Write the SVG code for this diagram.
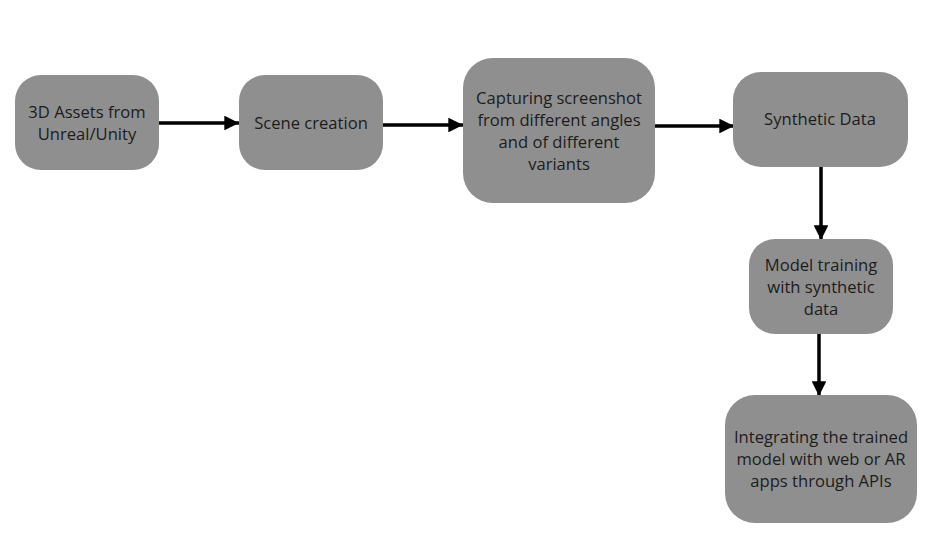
<svg xmlns="http://www.w3.org/2000/svg" width="948" height="552" viewBox="0 0 948 552">
<defs>
<marker id="ah" viewBox="0 0 10 10" refX="10" refY="5" markerWidth="4.2" markerHeight="4.2" markerUnits="strokeWidth" orient="auto">
<path d="M0,0 L10,5 L0,10 Z" fill="#000"/>
</marker>
</defs>
<style>
.box{fill:#8f8f8f}
.t{font-family:"Open Sans","Noto Sans",sans-serif;font-size:16.6px;fill:#1c1c1c;text-anchor:middle}
.c{stroke:#000;stroke-width:3.5;fill:none;marker-end:url(#ah)}
</style>
<rect width="948" height="552" fill="#fff"/>
<g id="connectors">
<line class="c" x1="159" y1="123" x2="239" y2="123"/>
<line class="c" x1="383" y1="125" x2="463" y2="125"/>
<line class="c" x1="655" y1="126" x2="734" y2="126"/>
<line class="c" x1="821" y1="167" x2="821" y2="240"/>
<line class="c" x1="819" y1="334" x2="819" y2="396"/>
</g>
<g id="n1">
<rect class="box" x="15" y="75" width="144" height="95" rx="26"/>
<text class="t" x="87" y="118">3D Assets from</text>
<text class="t" x="87" y="140">Unreal/Unity</text>
</g>
<g id="n2">
<rect class="box" x="239" y="75" width="144" height="95" rx="26"/>
<text class="t" x="311" y="129">Scene creation</text>
</g>
<g id="n3">
<rect class="box" x="463" y="58" width="192" height="145" rx="30"/>
<text class="t" x="559" y="104">Capturing screenshot</text>
<text class="t" x="559" y="126">from different angles</text>
<text class="t" x="559" y="148">and of different</text>
<text class="t" x="559" y="170">variants</text>
</g>
<g id="n4">
<rect class="box" x="733" y="72" width="175" height="95" rx="28"/>
<text class="t" x="820" y="125">Synthetic Data</text>
</g>
<g id="n5">
<rect class="box" x="749" y="239" width="144" height="95" rx="26"/>
<text class="t" x="821" y="271">Model training</text>
<text class="t" x="821" y="293">with synthetic</text>
<text class="t" x="821" y="315">data</text>
</g>
<g id="n6">
<rect class="box" x="725" y="395" width="192" height="128" rx="30"/>
<text class="t" x="821" y="443">Integrating the trained</text>
<text class="t" x="821" y="465">model with web or AR</text>
<text class="t" x="821" y="487">apps through APIs</text>
</g>
</svg>
